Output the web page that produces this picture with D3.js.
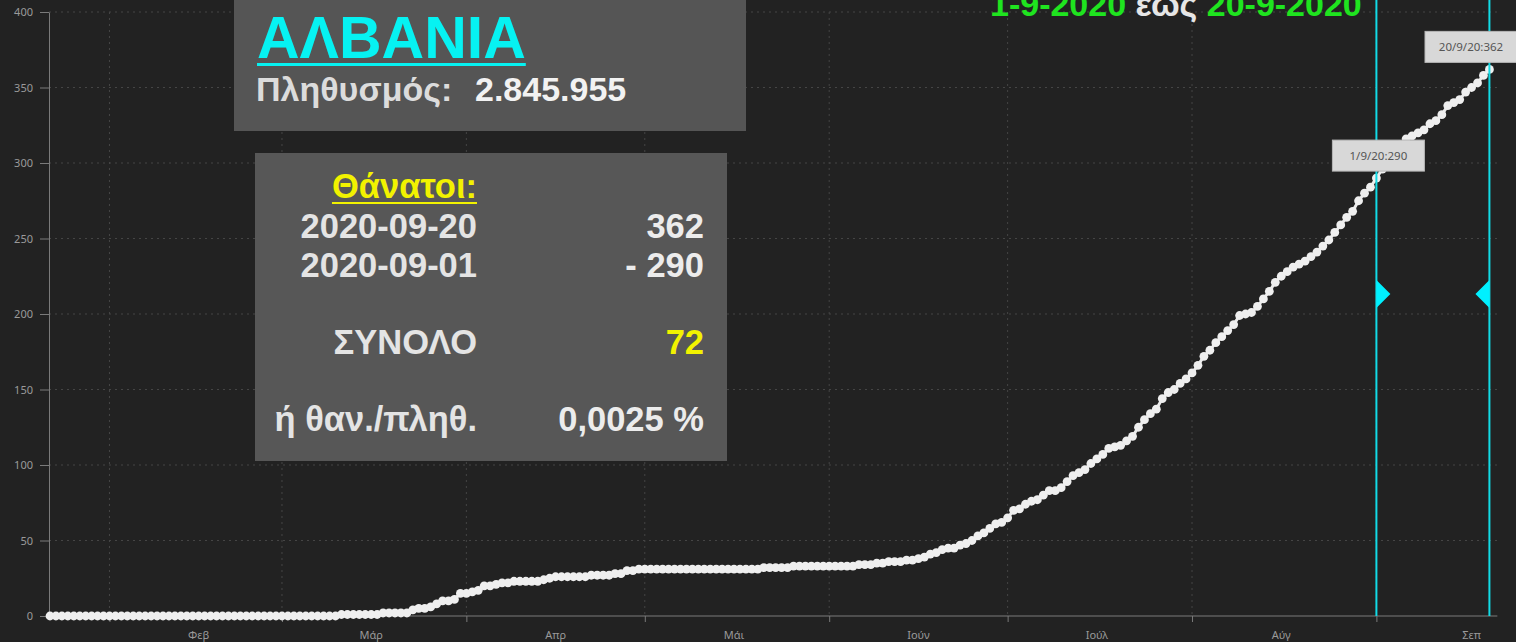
<!DOCTYPE html>
<html>
<head>
<meta charset="utf-8">
<script src="https://cdn.jsdelivr.net/npm/d3@7"></script>
<style>
  html, body { margin: 0; padding: 0; background: #222222; overflow: hidden; }
  svg { display: block; }
  text { white-space: pre; }
</style>
</head>
<body>
<svg id="chart" width="1516" height="642"></svg>
<script>
// ---------------- DATA ----------------
const startDate = new Date(2020, 0, 22);   // first daily point (Jan 22, 2020)
// cumulative deaths, one value per day from Jan 22 to Sep 20, 2020
const zerosJanMar = [0,0,0,0,0,0,0,0,0,0, 0,0,0,0,0,0,0,0,0,0, 0,0,0,0,0,0,0,0,0,0, 0,0,0,0,0,0,0,0,0,0, 0,0,0,0,0,0,0,0,0];
const marchDeaths = [1,1,1,1,1,1,1,2,2,2,2,2,4,5,5,6,8,10,10,11,15];
const aprilDeaths = [15,16,17,20,20,21,22,22,23,23,23,23,23,24,25,26,26,26,26,26,26,27,27,27,27,28,28,30,30,31];
const mayDeaths   = [31,31,31,31,31,31,31,31,31,31,31,31,31,31,31,31,31,31,31,31,32,32,32,32,32,33,33,33,33,33,33];
const juneDeaths  = [33,33,33,33,33,34,34,34,35,35,36,36,36,37,37,38,39,41,42,44,45,45,47,48,50,53,55,58,61,62];
const julyDeaths  = [65,70,71,74,76,77,80,83,83,85,89,93,95,97,101,104,107,111,112,113,116,119,125,130,134,137,144,148,150,154,157];
const augDeaths   = [161,166,172,176,181,185,189,193,199,200,201,205,210,215,221,225,228,231,233,235,238,241,245,249,254,259,264,268,275,280,284];
const sepDeaths   = [290,296,301,306,312,316,318,320,322,326,328,332,338,340,342,347,350,353,358,362];

const values = [].concat(zerosJanMar, marchDeaths, aprilDeaths, mayDeaths, juneDeaths, julyDeaths, augDeaths, sepDeaths);
const dates = values.map((v, i) => d3.timeDay.offset(startDate, i));

const yTicks = [0, 50, 100, 150, 200, 250, 300, 350, 400];
const monthStarts = [new Date(2020,1,1), new Date(2020,2,1), new Date(2020,3,1), new Date(2020,4,1),
                     new Date(2020,5,1), new Date(2020,6,1), new Date(2020,7,1), new Date(2020,8,1)];
const monthLabels = ["Φεβ", "Μάρ", "Απρ", "Μάι", "Ιούν", "Ιούλ", "Αύγ", "Σεπ"];

const rangeStart = new Date(2020, 8, 1);
const rangeEnd   = new Date(2020, 8, 20);
const startVal = 290, endVal = 362;
const population = "2.845.955";
const countryName = "ΑΛΒΑΝΙΑ";
const tableRows = [
  { label: "2020-09-20", value: "362" },
  { label: "2020-09-01", value: "- 290" },
  { label: "ΣΥΝΟΛΟ", value: "72" },
  { label: "ή θαν./πληθ.", value: "0,0025 %" }
];

// ---------------- CHART ----------------
const svg = d3.select("#chart");
const W = 1516, H = 642;
svg.append("rect").attr("width", W).attr("height", H).attr("fill", "#222222");

const x = d3.scaleTime()
  .domain([startDate, d3.timeDay.offset(startDate, values.length - 1)])
  .range([50, 50 + (values.length - 1) * 5.948]);
const y = d3.scaleLinear().domain([0, 400]).range([616, 12]);

const axisX0 = 49;
const axisX1 = x(d3.timeDay.offset(rangeEnd, 1)) + 2;
const gridColor = "#454545";
const axisColor = "#7a7a7a";
const labelColor = "#9a9a9a";
const tickFont = "'Noto Sans', 'Open Sans', sans-serif";

// horizontal grid
svg.append("g").selectAll("line").data(yTicks.filter(d => d > 0)).join("line")
  .attr("x1", axisX0).attr("x2", axisX1)
  .attr("y1", d => y(d)).attr("y2", d => y(d))
  .attr("stroke", gridColor).attr("stroke-width", 1).attr("stroke-dasharray", "2,4");
// vertical grid
svg.append("g").selectAll("line").data(monthStarts).join("line")
  .attr("x1", d => x(d)).attr("x2", d => x(d))
  .attr("y1", y(400)).attr("y2", y(0))
  .attr("stroke", gridColor).attr("stroke-width", 1).attr("stroke-dasharray", "2,4");

// Y axis
const yAxis = svg.append("g").attr("transform", `translate(${axisX0},0)`)
  .call(d3.axisLeft(y).tickValues(yTicks).tickSize(9).tickSizeOuter(0).tickPadding(7));
yAxis.select(".domain").attr("stroke", axisColor);
yAxis.selectAll(".tick line").attr("stroke", axisColor);
yAxis.selectAll(".tick text").attr("fill", labelColor).style("font-family", tickFont).style("font-size", "11px");

// X axis (ticks at month starts)
const xAxis = svg.append("g").attr("transform", `translate(0,${y(0)})`)
  .call(d3.axisBottom(x).tickValues(monthStarts).tickSize(6).tickFormat(""));
xAxis.select(".domain").remove();
xAxis.selectAll(".tick line").attr("stroke", axisColor);
svg.append("line").attr("x1", axisX0).attr("x2", axisX1).attr("y1", y(0)).attr("y2", y(0))
  .attr("stroke", axisColor).attr("stroke-width", 1);
// month labels in the middle of each month
svg.append("g").selectAll("text").data(monthStarts).join("text")
  .attr("x", (d, i) => x(d3.timeDay.offset(d, i === monthStarts.length - 1 ? 16 : 15)))
  .attr("y", 639)
  .attr("text-anchor", "middle")
  .attr("fill", labelColor).style("font-family", tickFont).style("font-size", "11px")
  .text((d, i) => monthLabels[i]);

// data line + dots
const pts = values.map((v, i) => ({ date: dates[i], value: v }));
svg.append("path").datum(pts)
  .attr("d", d3.line().x(d => x(d.date)).y(d => y(d.value)))
  .attr("fill", "none").attr("stroke", "#ececec").attr("stroke-width", 3);
svg.append("g").selectAll("circle").data(pts).join("circle")
  .attr("cx", d => x(d.date)).attr("cy", d => y(d.value)).attr("r", 4.4)
  .attr("fill", "#efefef");

// range lines
const cyan = "#12dbe6";
[rangeStart, rangeEnd].forEach((d, i) => {
  const lx = x(d);
  svg.append("line").attr("x1", lx).attr("x2", lx).attr("y1", 0).attr("y2", y(0))
    .attr("stroke", cyan).attr("stroke-width", 2);
  const ty = 294, dir = i === 0 ? 1 : -1;
  svg.append("path")
    .attr("d", `M${lx},${ty - 14} L${lx + dir * 14},${ty} L${lx},${ty + 14} Z`)
    .attr("fill", "#00f0ff");
});

// tooltips
function tooltip(date, val, label) {
  const w = 92, h = 31;
  let cx = x(date) + 2;
  if (cx + w / 2 > W) cx = W - w / 2 + 1;
  const bottom = y(val) - 7;
  svg.append("rect").attr("x", cx - w / 2).attr("y", bottom - h).attr("width", w).attr("height", h)
    .attr("fill", "#d8d8d8").attr("stroke", "#b8b8b8").attr("stroke-width", 1);
  svg.append("text").attr("x", cx).attr("y", bottom - h / 2 + 4).attr("text-anchor", "middle")
    .attr("fill", "#555").style("font-family", tickFont).style("font-size", "11.5px").text(label);
}
tooltip(rangeStart, startVal, "1/9/20:" + startVal);
tooltip(rangeEnd, endVal, "20/9/20:" + endVal);

// title (cut at the top, as in the original)
const boldFont = "'Liberation Sans', Arial, sans-serif";
const title = svg.append("text").attr("x", 990).attr("y", 16)
  .style("font-family", boldFont).style("font-weight", "bold").style("font-size", "34px");
title.append("tspan").attr("fill", "#1fe41f").text("1-9-2020");
title.append("tspan").attr("fill", "#e6e6e6").text(" έως ");
title.append("tspan").attr("fill", "#1fe41f").text("20-9-2020");

// info box 1
svg.append("rect").attr("x", 234).attr("y", 0).attr("width", 512).attr("height", 131).attr("fill", "#555555");
const nameText = svg.append("text").attr("x", 257).attr("y", 58)
  .attr("fill", "#06f2f2").style("font-family", boldFont).style("font-weight", "bold").style("font-size", "59px")
  .text(countryName);
const nb = nameText.node().getBBox();
svg.append("rect").attr("x", nb.x).attr("y", 63).attr("width", nb.width).attr("height", 3).attr("fill", "#06f2f2");
svg.append("text").attr("x", 256).attr("y", 101).attr("fill", "#dcdcdc")
  .style("font-family", boldFont).style("font-weight", "bold").style("font-size", "34px").text("Πληθυσμός:");
svg.append("text").attr("x", 475).attr("y", 101).attr("fill", "#f2f2f2")
  .style("font-family", boldFont).style("font-weight", "bold").style("font-size", "34px").text(population);

// info box 2
svg.append("rect").attr("x", 255).attr("y", 153).attr("width", 472).attr("height", 308).attr("fill", "#575757");
const bigSize = "34.5px";
const hdr = svg.append("text").attr("x", 477).attr("y", 198).attr("text-anchor", "end")
  .attr("fill", "#f2f200").style("font-family", boldFont).style("font-weight", "bold").style("font-size", bigSize)
  .text("Θάνατοι:");
const hb = hdr.node().getBBox();
svg.append("rect").attr("x", hb.x).attr("y", 202).attr("width", hb.width).attr("height", 2).attr("fill", "#f2f200");
const rowY = [238, 277, 354, 431];
tableRows.forEach((r, i) => {
  svg.append("text").attr("x", 477).attr("y", rowY[i]).attr("text-anchor", "end")
    .attr("fill", "#e4e4e4").style("font-family", boldFont).style("font-weight", "bold").style("font-size", bigSize)
    .text(r.label);
  svg.append("text").attr("x", 704).attr("y", rowY[i]).attr("text-anchor", "end")
    .attr("fill", i === 2 ? "#f2f200" : "#ececec").style("font-family", boldFont).style("font-weight", "bold").style("font-size", bigSize)
    .text(r.value);
});
</script>
</body>
</html>
